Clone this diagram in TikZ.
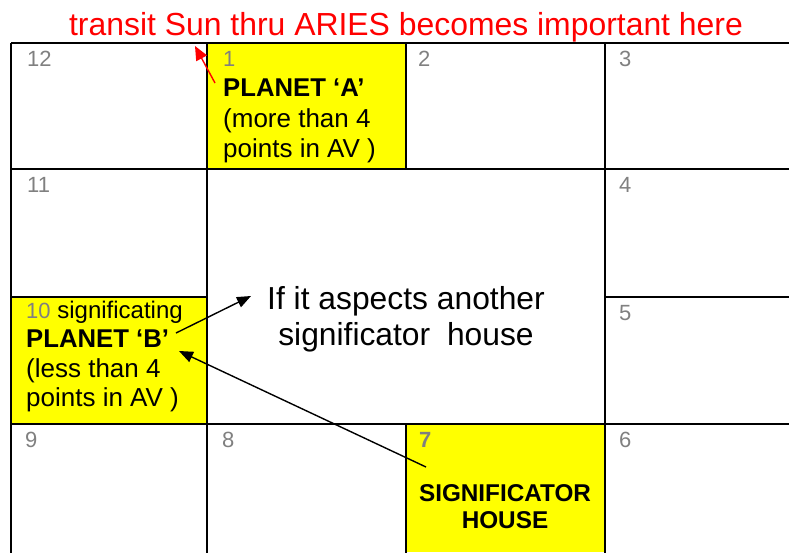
\documentclass[tikz,border=0pt]{standalone}
\usepackage{fontspec}
\setmainfont{Liberation Sans}
\usetikzlibrary{arrows.meta}
\definecolor{cellyellow}{RGB}{255,255,0}
\definecolor{numgray}{RGB}{128,128,128}
\definecolor{titlered}{RGB}{255,0,0}
\begin{document}
\begin{tikzpicture}[x=1pt,y=-1pt,
  gridline/.style={line width=2.6pt,black},
  num/.style={anchor=base west,inner sep=0pt,text=numgray,font=\fontsize{22}{26}\selectfont},
  body/.style={anchor=base west,inner sep=0pt,font=\fontsize{26}{30}\selectfont},
  bodybold/.style={anchor=base west,inner sep=0pt,font=\bfseries\fontsize{25.7}{30}\selectfont},
  centertext/.style={anchor=base,inner sep=0pt,font=\fontsize{31.8}{36}\selectfont},
  sigtext/.style={anchor=base,inner sep=0pt,font=\bfseries\fontsize{24.3}{28}\selectfont},
  blackarrow/.style={line width=1.4pt,-{Triangle[length=14pt,width=11pt]}},
  redarrow/.style={line width=1.4pt,titlered,-{Triangle[length=14pt,width=12pt]}}]
\useasboundingbox (0,0) rectangle (789,552);
% yellow cells
\fill[cellyellow] (207,43) rectangle (406,169);
\fill[cellyellow] (11,297) rectangle (207,424);
\fill[cellyellow] (406,424) rectangle (605,552);
% grid
\draw[gridline] (11,43) -- (800,43);
\draw[gridline] (11,169) -- (800,169);
\draw[gridline] (11,297) -- (207,297);
\draw[gridline] (605,297) -- (800,297);
\draw[gridline] (11,424) -- (800,424);
\draw[gridline] (11,43) -- (11,560);
\draw[gridline] (207,43) -- (207,560);
\draw[gridline] (406,43) -- (406,169);
\draw[gridline] (406,424) -- (406,560);
\draw[gridline] (605,43) -- (605,560);
% title
\node[anchor=base,inner sep=0pt,text=titlered,font=\fontsize{31.9}{36}\selectfont] (title) at (406,35) {transit Sun thru ARIES becomes important here};
% numbers
\node[num] (n12) at (27,66) {12};
\node[num] (n1) at (223,66) {1};
\node[num] (n2) at (418,66) {2};
\node[num] (n3) at (619,66) {3};
\node[num] (n11) at (27,192) {11};
\node[num] (n4) at (619,192) {4};
\node[num] (n5) at (619,320) {5};
\node[num] (n9) at (25,447) {9};
\node[num] (n8) at (222,447) {8};
\node[num,font=\bfseries\fontsize{22}{26}\selectfont] (n7) at (419,447) {7};
\node[num] (n6) at (619,447) {6};
% cell 1
\node[bodybold] (pa) at (223,96) {PLANET ‘A’};
\node[body] (pa2) at (223,127) {(more than 4};
\node[body] (pa3) at (223,157) {points in AV )};
% cell 10
\node[anchor=base west,inner sep=0pt,font=\fontsize{24}{28}\selectfont] (pb0) at (26,318) {\textcolor{numgray}{\fontsize{22}{26}\selectfont 10} significating};
\node[bodybold] (pb) at (26,347) {PLANET ‘B’};
\node[body] (pb2) at (26,377) {(less than 4};
\node[body] (pb3) at (26,406) {points in AV )};
% center
\node[centertext] (c1) at (406,309) {If it aspects another};
\node[centertext] (c2) at (406,345) {significator\hspace{0.25em} house};
% significator house
\node[sigtext] (s1) at (505,501) {SIGNIFICATOR};
\node[sigtext] (s2) at (505,528) {HOUSE};
% arrows
\coordinate (redtail) at (215,83);
\coordinate (redtip) at (195,46);
\draw[redarrow] (redtail) -- (redtip);
\coordinate (bt1) at (176,333);
\coordinate (bh1) at (251,296);
\draw[blackarrow] (bt1) -- (bh1);
\coordinate (bt2) at (426,467);
\coordinate (bh2) at (179,351);
\draw[blackarrow] (bt2) -- (bh2);
\end{tikzpicture}
\end{document}
